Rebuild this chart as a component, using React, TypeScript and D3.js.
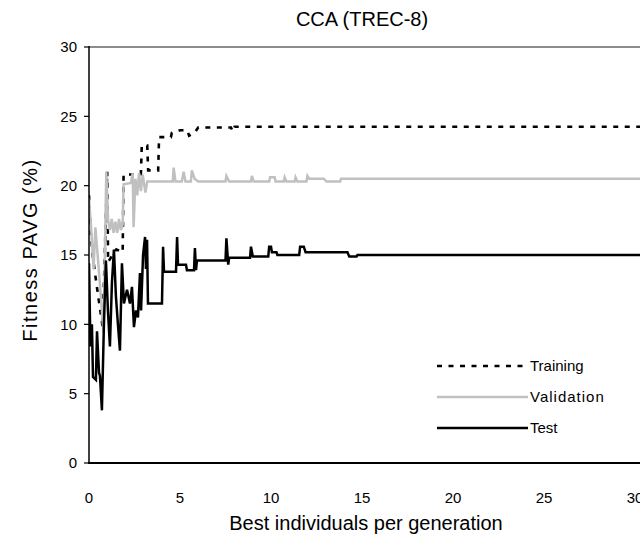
import React from "react";
import * as d3 from "d3";

const title = "CCA (TREC-8)";
const xTitle = "Best individuals per generation";
const yTitle = "Fitness PAVG (%)";
const xTicks = [0, 5, 10, 15, 20, 25, 30];
const yTicks = [0, 5, 10, 15, 20, 25, 30];
const seriesNames = ["Training", "Validation", "Test"];

const training: [number, number][] = [
  [0, 19.3], [0.1, 16.5], [0.2, 15], [0.4, 13], [0.75, 9.8], [1.0, 21], [1.05, 14.5],
  [1.5, 15.4], [1.85, 15.2], [1.9, 20.8], [2.85, 20.8], [2.9, 22.9], [3.2, 22.9],
  [3.25, 21.1], [3.8, 21.1], [3.85, 23.5], [4.5, 23.5], [4.55, 23.8], [5.0, 24.0],
  [5.4, 24.0], [5.5, 23.6], [5.8, 23.8], [6.0, 24.2], [7.8, 24.2], [7.9, 23.9],
  [8.0, 24.25], [31, 24.25],
];

const validation: [number, number][] = [
  [0, 19.1], [0.1, 17.3], [0.25, 14], [0.35, 17], [0.5, 14.6], [0.8, 9.4], [0.95, 21],
  [1.05, 17.5], [1.15, 16.8], [1.25, 17.6], [1.35, 16.6], [1.45, 17.4], [1.55, 16.6],
  [1.65, 17.6], [1.75, 16.8], [1.85, 17.2], [1.9, 20.1], [2.3, 20.2], [2.4, 20.9],
  [2.45, 17.0], [2.55, 20.5], [2.65, 19.3], [2.75, 20.9], [2.85, 19.6], [2.95, 20.8],
  [3.1, 19.5], [3.2, 20.3], [4.6, 20.3], [4.65, 21.3], [4.75, 20.3], [5.1, 20.3],
  [5.2, 21.0], [5.3, 20.3], [5.6, 20.3], [5.65, 21.1], [5.8, 20.5], [6.0, 20.3],
  [7.5, 20.3], [7.55, 20.7], [7.7, 20.3], [8.9, 20.3], [8.95, 20.7], [9.05, 20.3],
  [9.9, 20.3], [9.95, 20.6], [10.2, 20.6], [10.25, 20.3], [10.7, 20.3], [10.75, 20.6],
  [10.85, 20.3], [11.3, 20.3], [11.35, 20.6], [11.45, 20.3], [11.95, 20.3], [12.0, 20.7],
  [12.1, 20.5], [12.9, 20.5], [13.05, 20.3], [13.8, 20.3], [13.85, 20.5], [31, 20.5],
];

const test: [number, number][] = [
  [0, 14.4], [0.08, 8.4], [0.16, 10.0], [0.22, 6.2], [0.38, 6.0], [0.44, 9.5],
  [0.55, 6.5], [0.6, 6.3], [0.71, 3.8], [0.82, 10], [0.93, 14.6], [1.04, 11],
  [1.15, 8.4], [1.26, 13], [1.37, 15.4], [1.48, 12], [1.59, 10], [1.7, 8.1],
  [1.81, 14.4], [1.92, 11.5], [2.09, 12.5], [2.25, 11.5], [2.36, 12.7], [2.47, 9.8],
  [2.58, 11], [2.69, 10.5], [2.8, 13.7], [2.86, 11], [2.97, 15], [3.08, 16.3],
  [3.13, 14], [3.19, 16.1], [3.24, 11.5], [4.01, 11.5], [4.07, 15.6], [4.12, 13.8],
  [4.78, 13.8], [4.84, 16.3], [4.89, 14.3], [5.33, 14.3], [5.38, 13.9], [5.77, 13.9],
  [5.82, 15.5], [5.88, 13.9], [5.93, 14.6], [7.5, 14.6], [7.55, 16.2], [7.65, 14.3],
  [7.7, 14.8], [8.85, 14.8], [8.9, 15.6], [9.0, 14.9], [9.85, 14.9], [9.9, 15.6],
  [10.0, 15.6], [10.05, 15.2], [10.3, 15.2], [10.35, 15.0], [11.55, 15.0], [11.6, 15.6],
  [11.8, 15.6], [11.9, 15.2], [14.2, 15.2], [14.3, 14.9], [14.7, 14.9], [14.75, 15.0],
  [31, 15.0],
];

export default function App() {
  const W = 640, H = 535;
  const x = d3.scaleLinear().domain([0, 30]).range([89, 635]);
  const y = d3.scaleLinear().domain([0, 30]).range([463, 47]);
  const line = d3.line<[number, number]>().x(d => x(d[0])).y(d => y(d[1]));
  const font = "'Liberation Sans', Arial, sans-serif";
  const styles = [
    { stroke: "#000", dash: "5,6.5", w: 2.6 },
    { stroke: "#c0c0c0", dash: "", w: 2.5 },
    { stroke: "#000", dash: "", w: 2.5 },
  ];
  const data = [training, validation, test];
  const legendY = [366, 397, 428];
  return (
    <svg width={W} height={H} style={{ position: "absolute", left: 0, top: 0, background: "#fff" }} fontFamily={font}>
      <defs>
        <clipPath id="plot"><rect x={89} y={40} width={560} height={424} /></clipPath>
      </defs>
      <line x1={89} x2={640} y1={47} y2={47} stroke="#8c8c8c" strokeWidth={2} />
      <g clipPath="url(#plot)">
        {data.map((d, i) => (
          <path key={i} d={line(d) || ""} fill="none" stroke={styles[i].stroke}
            strokeWidth={styles[i].w} strokeDasharray={styles[i].dash || undefined}
            strokeLinejoin="miter" />
        ))}
      </g>
      <line x1={89} x2={89} y1={46} y2={464} stroke="#000" strokeWidth={1.5} />
      <line x1={88} x2={640} y1={463} y2={463} stroke="#000" strokeWidth={1.8} />
      {yTicks.map(t => (
        <g key={t}>
          <line x1={84} x2={89} y1={y(t)} y2={y(t)} stroke="#000" strokeWidth={1.2} />
          <text x={77} y={y(t)} dy="0.35em" textAnchor="end" fontSize={15}>{t}</text>
        </g>
      ))}
      {xTicks.map(t => (
        <text key={t} x={x(t)} y={503} textAnchor="middle" fontSize={15}>{t}</text>
      ))}
      <text x={362} y={26} textAnchor="middle" fontSize={20}>{title}</text>
      <text x={366} y={530} textAnchor="middle" fontSize={20}>{xTitle}</text>
      <text transform={`translate(37,250) rotate(-90)`} textAnchor="middle" fontSize={20}
        letterSpacing={1.5}>{yTitle}</text>
      {seriesNames.map((n, i) => (
        <g key={n}>
          <line x1={437} x2={528} y1={legendY[i]} y2={legendY[i]} stroke={styles[i].stroke}
            strokeWidth={styles[i].w} strokeDasharray={styles[i].dash || undefined} />
          <text x={530} y={legendY[i]} dy="0.35em" fontSize={15}
            letterSpacing={n === "Validation" ? 1 : 0}>{n}</text>
        </g>
      ))}
    </svg>
  );
}
